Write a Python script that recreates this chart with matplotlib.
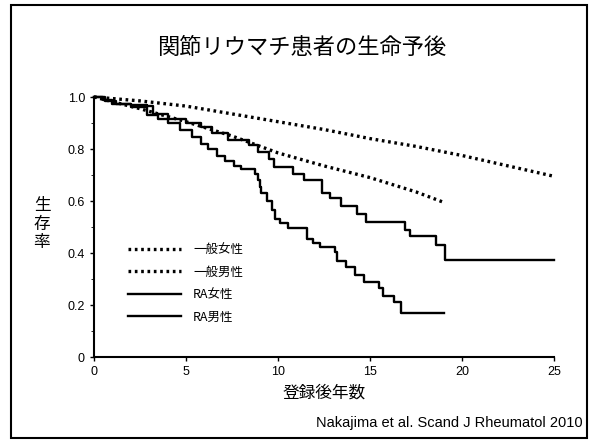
import matplotlib
matplotlib.use("Agg")
import matplotlib.pyplot as plt
import matplotlib.patches as patches
from matplotlib.ticker import MultipleLocator

plt.rcParams['font.family'] = ['Noto Sans CJK JP', 'DejaVu Sans']

# general population curves (expected survival)
gen_f_t = [0, 2.5, 5, 7.5, 10, 12.5, 15, 17.5, 20, 22.5, 25]
gen_f_s = [1.0, 0.985, 0.965, 0.935, 0.905, 0.875, 0.84, 0.81, 0.775, 0.735, 0.695]
gen_m_t = [0, 2.5, 5, 7.5, 10, 12.5, 15, 17.5, 19]
gen_m_s = [1.0, 0.955, 0.905, 0.85, 0.785, 0.735, 0.69, 0.635, 0.595]

# RA patients (Kaplan-Meier steps)
ra_f_t = [0, 0.6, 1.2, 2.0, 2.9, 3.2, 4.0, 5.0, 5.8, 6.4, 7.3, 8.4, 8.9, 9.5, 9.8,
          10.8, 11.4, 12.4, 12.8, 13.4, 14.3, 14.8, 16.9, 17.2, 18.6, 19.1, 25]
ra_f_s = [1.0, 0.985, 0.975, 0.97, 0.965, 0.935, 0.915, 0.9, 0.885, 0.86, 0.835, 0.815, 0.79, 0.76, 0.73,
          0.705, 0.68, 0.63, 0.61, 0.58, 0.55, 0.52, 0.49, 0.465, 0.43, 0.375, 0.375]
ra_m_t = [0, 0.5, 1.0, 2.0, 2.9, 3.5, 4.0, 4.7, 5.3, 5.8, 6.2, 6.7, 7.1, 7.6, 8.0, 8.75, 8.9, 9.0,
          9.1, 9.4, 9.65, 9.85, 10.1, 10.55, 11.6, 11.9, 12.3, 13.1, 13.2, 13.7, 14.2, 14.7, 15.5,
          15.7, 16.3, 16.7, 19.0]
ra_m_s = [1.0, 0.99, 0.975, 0.96, 0.93, 0.915, 0.9, 0.875, 0.845, 0.82, 0.8, 0.775, 0.755, 0.735, 0.725,
          0.705, 0.68, 0.655, 0.63, 0.6, 0.565, 0.53, 0.515, 0.495, 0.455, 0.44, 0.425, 0.405, 0.37,
          0.345, 0.315, 0.29, 0.265, 0.235, 0.21, 0.17, 0.17]

labels = ['一般女性', '一般男性', 'RA女性', 'RA男性']
x_ticks = [0, 5, 10, 15, 20, 25]
y_ticks = [0, 0.2, 0.4, 0.6, 0.8, 1.0]
y_tick_labels = ['0', '0.2', '0.4', '0.6', '0.8', '1.0']

fig = plt.figure(figsize=(5.91, 4.41), dpi=100)
ax = fig.add_axes([94 / 591, 1 - 357 / 441, 460 / 591, 260 / 441])

dot = (0, (0.8, 1.1))
ax.plot(gen_f_t, gen_f_s, color='black', lw=2.4, ls=dot, label=labels[0], clip_on=False)
ax.plot(gen_m_t, gen_m_s, color='black', lw=2.4, ls=dot, label=labels[1], clip_on=False)
ax.step(ra_f_t, ra_f_s, where='post', color='black', lw=1.7, label=labels[2], clip_on=False)
ax.step(ra_m_t, ra_m_s, where='post', color='black', lw=1.7, label=labels[3], clip_on=False)

ax.set_xlim(0, 25)
ax.set_ylim(0, 1.0)
ax.set_xticks(x_ticks)
ax.set_yticks(y_ticks)
ax.set_yticklabels(y_tick_labels)
ax.yaxis.set_minor_locator(MultipleLocator(0.1))
ax.tick_params(axis='both', labelsize=9, length=3, width=1, colors='black')
ax.tick_params(axis='y', which='minor', length=2)
for lab in ax.get_xticklabels() + ax.get_yticklabels():
    lab.set_family('Liberation Sans')
ax.spines['top'].set_visible(False)
ax.spines['right'].set_visible(False)
ax.spines['left'].set_linewidth(1.5)
ax.spines['bottom'].set_linewidth(1.5)

ax.set_xlabel('登録後年数', fontsize=12, labelpad=5)
fig.text(42 / 591, 1 - 224 / 441, '生\n存\n率', fontsize=12, ha='center', va='center',
         linespacing=1.15)

ax.legend(loc='upper left', bbox_to_anchor=(0.05, 0.48), frameon=False, fontsize=9,
          handlelength=4.2, handletextpad=1.0, labelspacing=0.75)

fig.text(302 / 591, 1 - 47 / 441, '関節リウマチ患者の生命予後', fontsize=16, ha='center', va='center')
fig.text(583 / 591, 1 - 423 / 441, 'Nakajima et al. Scand J Rheumatol 2010', fontsize=10.5,
         ha='right', va='center', family='Liberation Sans')

fig.patches.append(patches.Rectangle((11 / 591, 1 - 438 / 441), 576 / 591, 433 / 441,
                                     transform=fig.transFigure, fill=False, lw=1.5,
                                     edgecolor='black'))

fig.savefig('out.png', dpi=100)
